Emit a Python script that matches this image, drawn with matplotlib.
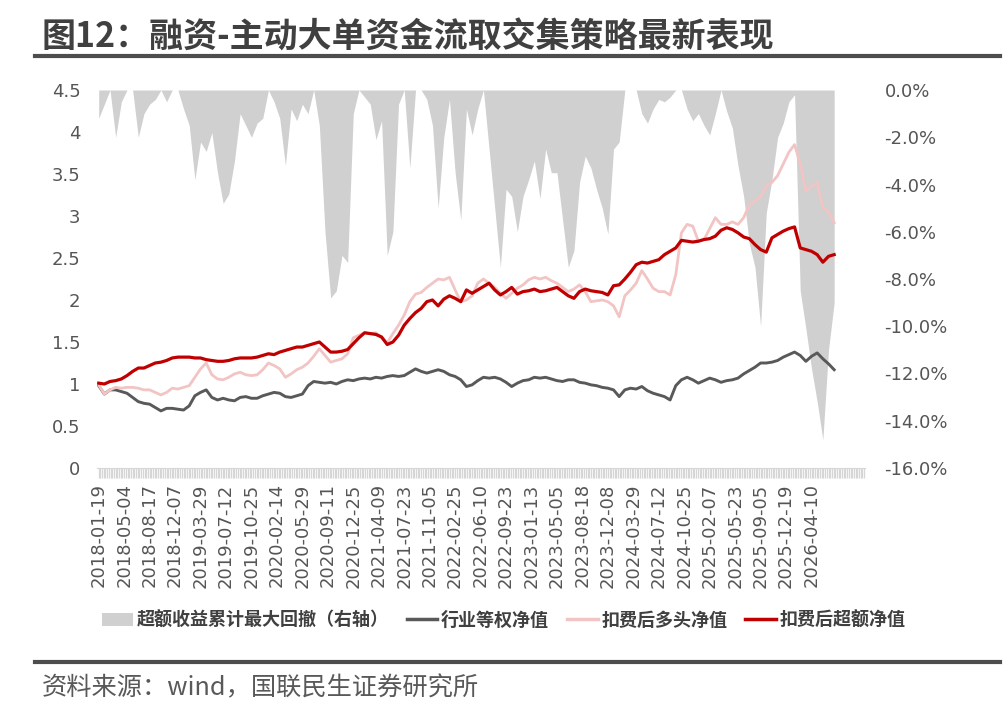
import matplotlib
matplotlib.use("Agg")
import matplotlib.pyplot as plt
import numpy as np
from matplotlib.lines import Line2D
from matplotlib.patches import Patch
from matplotlib.font_manager import FontProperties

# weekly categories, a label every 15 weeks
tick_labels = ["2018-01-19", "2018-05-04", "2018-08-17", "2018-12-07", "2019-03-29",
               "2019-07-12", "2019-10-25", "2020-02-14", "2020-05-29", "2020-09-11",
               "2020-12-25", "2021-04-09", "2021-07-23", "2021-11-05", "2022-02-25",
               "2022-06-10", "2022-09-23", "2023-01-13", "2023-05-05", "2023-08-18",
               "2023-12-08", "2024-03-29", "2024-07-12", "2024-10-25", "2025-02-07",
               "2025-05-23", "2025-09-05", "2025-12-19", "2026-04-10"]

# values, three samples every ten weeks
excess_nav = [1.01, 1.00, 1.03, 1.04, 1.06, 1.10, 1.15, 1.19, 1.19, 1.22,
              1.25, 1.26, 1.28, 1.31, 1.32, 1.32, 1.32, 1.31, 1.31, 1.29,
              1.28, 1.27, 1.27, 1.28, 1.30, 1.31, 1.31, 1.31, 1.32, 1.34,
              1.36, 1.35, 1.38, 1.40, 1.42, 1.44, 1.44, 1.46, 1.48, 1.50,
              1.44, 1.38, 1.38, 1.39, 1.41, 1.48, 1.55, 1.61, 1.60, 1.59,
              1.56, 1.47, 1.50, 1.58, 1.70, 1.78, 1.85, 1.90, 1.98, 2.00,
              1.93, 2.01, 2.05, 2.02, 1.98, 2.12, 2.08, 2.12, 2.16, 2.20,
              2.12, 2.06, 2.10, 2.15, 2.07, 2.10, 2.11, 2.13, 2.10, 2.11,
              2.13, 2.15, 2.10, 2.05, 2.02, 2.10, 2.13, 2.11, 2.10, 2.09,
              2.06, 2.17, 2.18, 2.25, 2.33, 2.42, 2.45, 2.44, 2.46, 2.48,
              2.54, 2.58, 2.62, 2.71, 2.70, 2.69, 2.70, 2.72, 2.73, 2.76,
              2.83, 2.86, 2.84, 2.80, 2.75, 2.73, 2.66, 2.60, 2.57, 2.74,
              2.78, 2.82, 2.85, 2.87, 2.62, 2.60, 2.58, 2.54, 2.45, 2.52,
              2.54]

long_nav = [0.99, 0.88, 0.93, 0.96, 0.95, 0.96, 0.96, 0.95, 0.93, 0.93,
            0.90, 0.87, 0.90, 0.95, 0.94, 0.96, 0.98, 1.08, 1.18, 1.25,
            1.11, 1.06, 1.05, 1.08, 1.12, 1.14, 1.11, 1.10, 1.11, 1.17,
            1.25, 1.22, 1.18, 1.08, 1.12, 1.17, 1.20, 1.25, 1.33, 1.42,
            1.34, 1.26, 1.28, 1.30, 1.36, 1.55, 1.58, 1.61, 1.60, 1.61,
            1.55, 1.49, 1.60, 1.70, 1.82, 1.98, 2.07, 2.09, 2.15, 2.20,
            2.25, 2.24, 2.27, 2.12, 1.98, 2.00, 2.05, 2.20, 2.25, 2.20,
            2.15, 2.08, 2.02, 2.08, 2.14, 2.18, 2.24, 2.27, 2.25, 2.27,
            2.23, 2.20, 2.15, 2.10, 2.13, 2.18, 2.10, 1.98, 1.99, 2.00,
            1.98, 1.93, 1.80, 2.05, 2.12, 2.20, 2.35, 2.25, 2.14, 2.10,
            2.10, 2.06, 2.30, 2.80, 2.90, 2.88, 2.70, 2.72, 2.85, 2.98,
            2.90, 2.90, 2.93, 2.90, 2.98, 3.13, 3.18, 3.23, 3.36, 3.40,
            3.48, 3.62, 3.76, 3.85, 3.62, 3.30, 3.35, 3.40, 3.10, 3.05,
            2.92]

industry_nav = [0.98, 0.88, 0.93, 0.93, 0.91, 0.89, 0.84, 0.79, 0.77, 0.76,
                0.72, 0.68, 0.71, 0.71, 0.70, 0.69, 0.74, 0.86, 0.90, 0.93,
                0.84, 0.81, 0.83, 0.81, 0.80, 0.84, 0.85, 0.83, 0.83, 0.86,
                0.88, 0.90, 0.89, 0.85, 0.84, 0.86, 0.88, 0.98, 1.03, 1.02,
                1.01, 1.02, 1.00, 1.03, 1.05, 1.04, 1.06, 1.07, 1.06, 1.08,
                1.07, 1.09, 1.10, 1.09, 1.10, 1.14, 1.18, 1.15, 1.13, 1.15,
                1.17, 1.15, 1.11, 1.09, 1.05, 0.97, 0.99, 1.04, 1.08, 1.07,
                1.08, 1.06, 1.02, 0.97, 1.01, 1.04, 1.05, 1.08, 1.07, 1.08,
                1.06, 1.04, 1.03, 1.05, 1.05, 1.02, 1.01, 0.99, 0.98, 0.96,
                0.95, 0.93, 0.85, 0.93, 0.95, 0.94, 0.97, 0.92, 0.89, 0.87,
                0.85, 0.81, 0.98, 1.05, 1.08, 1.05, 1.01, 1.04, 1.07, 1.05,
                1.02, 1.04, 1.05, 1.07, 1.12, 1.16, 1.20, 1.25, 1.25, 1.26,
                1.28, 1.32, 1.35, 1.38, 1.34, 1.27, 1.33, 1.37, 1.30, 1.24,
                1.17]

# max drawdown of excess return, percent (right axis)
drawdown = [-1.2, -0.6, 0, -2.0, -0.5, 0, 0, -2.0, -1.0, -0.6,
            -0.4, 0, -0.5, 0, 0, -0.8, -1.5, -3.8, -2.2, -2.6,
            -1.8, -3.5, -4.8, -4.4, -3.0, -1.0, -1.5, -2.0, -1.4, -1.2,
            0, -0.5, -1.2, -3.2, -0.8, -1.3, -0.6, -1.0, 0, -1.5,
            -6.0, -8.8, -8.5, -7.0, -7.3, -1.0, 0, -0.3, -0.6, -2.1,
            -1.3, -7.0, -6.0, -0.6, 0, -3.3, 0, 0, -0.4, -1.5,
            -5.0, -2.0, -0.4, -3.5, -5.5, -0.8, -1.9, -0.8, 0, -2.5,
            -5.0, -7.5, -4.2, -4.5, -6.0, -4.5, -3.8, -3.0, -4.6, -2.5,
            -3.5, -3.5, -5.5, -7.5, -6.8, -3.9, -2.8, -3.3, -4.2, -5.0,
            -6.1, -2.5, -2.2, 0, 0, 0, -1.0, -1.4, -0.8, -0.4,
            -0.5, -0.3, 0, 0, -0.8, -1.3, -1.0, -1.5, -1.9, -1.0,
            0, -0.9, -1.6, -3.2, -4.5, -6.5, -7.5, -10.0, -5.2, -3.8,
            -2.0, -1.4, -0.5, -0.2, -8.5, -10.1, -11.8, -13.2, -14.8, -11.0,
            -9.0]

n_weeks = 452
weeks = np.arange(len(excess_nav)) * 10 / 3

cjk = ['Noto Sans CJK SC', 'DejaVu Sans']
plt.rcParams['font.family'] = ['DejaVu Sans', 'Noto Sans CJK SC']

fig = plt.figure(figsize=(10.05, 7.05), dpi=100)
ax = fig.add_axes([97 / 1005, 1 - 468 / 705, (865 - 97) / 1005, (468 - 90) / 705])
ax2 = ax.twinx()

ax2.fill_between(weeks, drawdown, 0, color='#d0d0d0', lw=0)
ax2.set_ylim(-16, 0)
ax2.set_yticks(np.arange(-16, 0.1, 2))
ax2.set_yticklabels([f"{v:.1f}%" for v in np.arange(-16, 0.1, 2)])

ax.set_zorder(ax2.get_zorder() + 1)
ax.patch.set_visible(False)

ax.plot(weeks, industry_nav, color='#595959', lw=2.1)
ax.plot(weeks, long_nav, color='#f2c4c4', lw=2.0)
ax.plot(weeks, excess_nav, color='#c00000', lw=2.3)

ax.set_ylim(0, 4.5)
ax.set_yticks(np.arange(0, 4.51, 0.5))
ax.set_yticklabels(["0", "0.5", "1", "1.5", "2", "2.5", "3", "3.5", "4", "4.5"])
ax.set_xlim(-1, n_weeks - 0.5)

ax.set_xticks(np.arange(len(tick_labels)) * 15)
ax.set_xticklabels(tick_labels, rotation=90)
ax.set_xticks(np.arange(n_weeks), minor=True)
ax.tick_params(axis='x', which='both', length=7, width=0.9, color='#d6d6d6',
               labelsize=13, labelcolor='#555555', pad=4)
ax.tick_params(axis='y', length=0, labelsize=13, labelcolor='#555555', pad=12)
ax2.tick_params(axis='y', length=0, labelsize=13, labelcolor='#555555', pad=14)

for a in (ax, ax2):
    for s in a.spines.values():
        s.set_visible(False)
ax.spines['bottom'].set_visible(True)
ax.spines['bottom'].set_color('#d6d6d6')

# title, rules, legend, source
fig.text(42 / 1005, 1 - 37 / 705, "图12：融资-主动大单资金流取交集策略最新表现",
         family=cjk, fontsize=24.5, fontweight='bold', color='#404040', va='center')
fig.add_artist(Line2D([35 / 1005, 1000 / 1005], [1 - 56 / 705] * 2, color='#4d4d4d', lw=3))
fig.add_artist(Line2D([35 / 1005, 1000 / 1005], [1 - 662 / 705] * 2, color='#4d4d4d', lw=3))
fig.text(42 / 1005, 1 - 688 / 705, "资料来源：wind，国联民生证券研究所",
         family=cjk, fontsize=18.2, color='#595959', va='center')

handles = [Patch(facecolor='#d0d0d0', edgecolor='none'),
           Line2D([], [], color='#595959', lw=2.5),
           Line2D([], [], color='#f2c4c4', lw=2.5),
           Line2D([], [], color='#c00000', lw=2.5)]
labels = ["超额收益累计最大回撤（右轴）", "行业等权净值", "扣费后多头净值", "扣费后超额净值"]
fig.legend(handles, labels, loc='center', bbox_to_anchor=(504 / 1005, 1 - 620 / 705),
           ncol=4, frameon=False, handlelength=1.7, handletextpad=0.2, columnspacing=1.0,
           prop=FontProperties(family=cjk, size=13, weight='bold'), labelcolor='#404040')

fig.savefig("out.png", dpi=100)
